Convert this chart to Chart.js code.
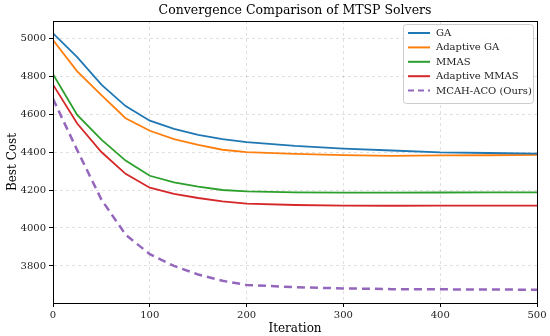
<!DOCTYPE html>
<html>
<head>
<meta charset="utf-8">
<script src="https://cdn.jsdelivr.net/npm/chart.js@4/dist/chart.umd.min.js"></script>
<style>
  html, body { margin: 0; padding: 0; background: #fff; }
  #wrap { width: 550px; height: 336px; }
</style>
</head>
<body>
<div id="wrap"><canvas id="chart" width="550" height="336"></canvas></div>
<script>
const iterations = [0, 25, 50, 75, 100, 125, 150, 175, 200, 250, 300, 350, 400, 450, 500];
const gaCost = [5025, 4900, 4755, 4642, 4565, 4522, 4490, 4468, 4452, 4432, 4418, 4408, 4398, 4395, 4392];
const adaptiveGaCost = [4990, 4825, 4700, 4578, 4512, 4468, 4438, 4412, 4400, 4390, 4384, 4380, 4382, 4383, 4385];
const mmasCost = [4810, 4595, 4465, 4355, 4275, 4240, 4218, 4200, 4193, 4188, 4186, 4186, 4187, 4188, 4188];
const adaptiveMmasCost = [4755, 4550, 4400, 4285, 4212, 4180, 4158, 4140, 4128, 4121, 4118, 4117, 4118, 4118, 4118];
const mcahAcoCost = [4680, 4410, 4150, 3965, 3862, 3800, 3755, 3722, 3700, 3688, 3682, 3678, 3677, 3676, 3675];
const xTicks = [0, 100, 200, 300, 400, 500];
const yTicks = [3800, 4000, 4200, 4400, 4600, 4800, 5000];
const chartTitle = 'Convergence Comparison of MTSP Solvers';

const font = '"DejaVu Serif", "Liberation Serif", serif';
Chart.defaults.font.family = font;

function points(values) {
    return iterations.map((x, i) => ({ x: x, y: values[i] }));
}

const series = [
    { label: 'GA', values: gaCost, color: '#1f77b4', dash: [] },
    { label: 'Adaptive GA', values: adaptiveGaCost, color: '#ff7f0e', dash: [] },
    { label: 'MMAS', values: mmasCost, color: '#2ca02c', dash: [] },
    { label: 'Adaptive MMAS', values: adaptiveMmasCost, color: '#d62728', dash: [] },
    { label: 'MCAH-ACO (Ours)', values: mcahAcoCost, color: '#9467bd', dash: [8, 5] }
];

// frame, title centred over the plot, legend box in the upper right
const framePlugin = {
    id: 'frame',
    afterDraw(chart) {
        const ctx = chart.ctx;
        const a = chart.chartArea;
        ctx.save();
        ctx.strokeStyle = '#000';
        ctx.lineWidth = 1;
        ctx.strokeRect(a.left + 0.5, a.top + 0.5, a.right - a.left, a.bottom - a.top);

        ctx.fillStyle = '#000';
        ctx.font = '12.5px ' + font;
        ctx.textAlign = 'center';
        ctx.textBaseline = 'middle';
        ctx.fillText(chartTitle, (a.left + a.right) / 2, 11);

        const boxW = 130, rowH = 14.4;
        const boxX = a.right - boxW - 4, boxY = a.top + 3;
        const boxH = rowH * series.length + 7;
        ctx.fillStyle = 'rgba(255,255,255,0.85)';
        ctx.strokeStyle = '#cccccc';
        ctx.beginPath();
        ctx.roundRect(boxX + 0.5, boxY + 0.5, boxW, boxH, 3);
        ctx.fill();
        ctx.stroke();

        ctx.font = '10px ' + font;
        ctx.textAlign = 'left';
        series.forEach((s, i) => {
            const y = boxY + 9 + i * rowH;
            ctx.strokeStyle = s.color;
            ctx.lineWidth = 2;
            ctx.setLineDash(s.dash.length ? [6, 4] : []);
            ctx.beginPath();
            ctx.moveTo(boxX + 5, y);
            ctx.lineTo(boxX + 27, y);
            ctx.stroke();
            ctx.setLineDash([]);
            ctx.fillStyle = '#222';
            ctx.fillText(s.label, boxX + 33, y + 0.5);
        });
        ctx.restore();
    }
};

new Chart(document.getElementById('chart'), {
    type: 'line',
    data: {
        datasets: series.map(s => ({
            label: s.label,
            data: points(s.values),
            borderColor: s.color,
            backgroundColor: s.color,
            borderWidth: s.dash.length ? 2.5 : 1.8,
            borderDash: s.dash,
            pointRadius: 0,
            tension: 0,
            fill: false
        }))
    },
    options: {
        responsive: false,
        animation: false,
        layout: { padding: { top: 21, right: 13, bottom: 0, left: 0 } },
        plugins: {
            legend: { display: false },
            tooltip: { enabled: false },
            title: { display: false }
        },
        scales: {
            x: {
                type: 'linear',
                min: 0,
                max: 500,
                afterBuildTicks: scale => { scale.ticks = xTicks.map(v => ({ value: v })); },
                afterFit: scale => { scale.height = 33; },
                title: {
                    display: true,
                    text: 'Iteration',
                    color: '#000',
                    font: { family: font, size: 12 },
                    padding: { top: 0, bottom: 0 }
                },
                ticks: { color: '#222', font: { family: font, size: 10 }, padding: 2, maxRotation: 0, callback: v => String(v) },
                grid: { color: 'rgba(0,0,0,0.12)', tickColor: '#000', tickLength: 4, tickBorderDash: [] },
                border: { display: true, color: '#000', dash: [3, 3] }
            },
            y: {
                type: 'linear',
                min: 3605,
                max: 5090,
                afterBuildTicks: scale => { scale.ticks = yTicks.map(v => ({ value: v })); },
                afterFit: scale => { scale.width = 53; },
                title: {
                    display: true,
                    text: 'Best Cost',
                    color: '#000',
                    font: { family: font, size: 12 },
                    padding: { top: 6, bottom: 0 }
                },
                ticks: { color: '#222', font: { family: font, size: 10 }, padding: 3, callback: v => String(v) },
                grid: { color: 'rgba(0,0,0,0.12)', tickColor: '#000', tickLength: 4, tickBorderDash: [] },
                border: { display: true, color: '#000', dash: [3, 3] }
            }
        }
    },
    plugins: [framePlugin]
});
</script>
</body>
</html>
